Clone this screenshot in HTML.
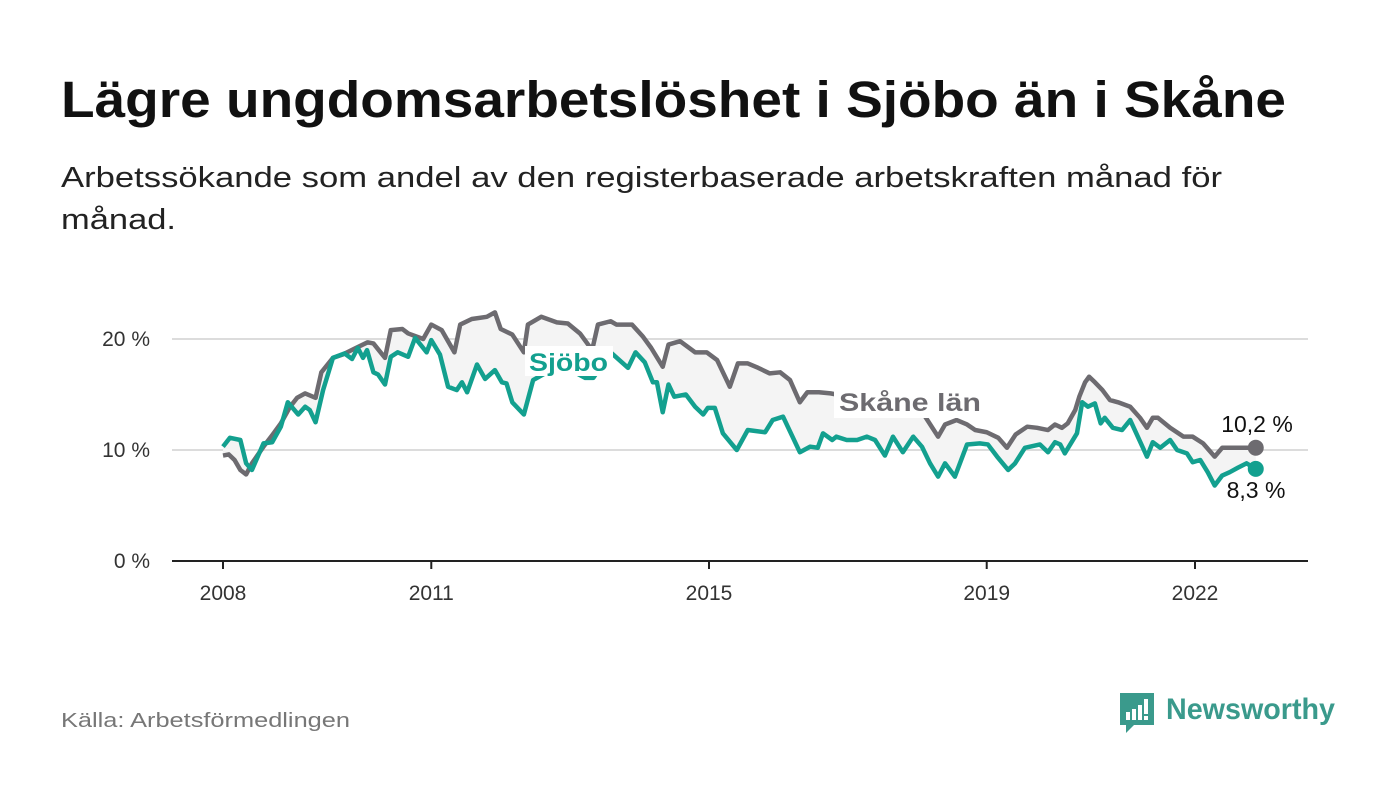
<!DOCTYPE html>
<html><head><meta charset="utf-8"><style>
body{margin:0;background:#fff;width:1400px;height:794px;overflow:hidden;font-family:"Liberation Sans","DejaVu Sans",sans-serif}
</style></head><body>
<svg width="1400" height="794" viewBox="0 0 1400 794" style="position:absolute;left:0;top:0">
<text x="61" y="117" font-size="51" font-weight="bold" fill="#111" textLength="1225" lengthAdjust="spacingAndGlyphs">Lägre ungdomsarbetslöshet i Sjöbo än i Skåne</text>
<text x="61" y="187" font-size="29" fill="#222" textLength="1161" lengthAdjust="spacingAndGlyphs">Arbetssökande som andel av den registerbaserade arbetskraften månad för</text>
<text x="61" y="229" font-size="29" fill="#222" textLength="115" lengthAdjust="spacingAndGlyphs">månad.</text>
<g id="grid"></g>
<g id="plot"></g>
<text x="61" y="727" font-size="20" fill="#777" textLength="289" lengthAdjust="spacingAndGlyphs">Källa: Arbetsförmedlingen</text>
<g>
<path d="M1120 693 h34 v32 h-20 l-8 8 v-8 h-6 z" fill="#3a9a8c"/>
<rect x="1126" y="712" width="4" height="8" fill="#fff"/><rect x="1132" y="709" width="4" height="11" fill="#fff"/><rect x="1138" y="705" width="4" height="15" fill="#fff"/><rect x="1144" y="699" width="4" height="15" fill="#fff"/><rect x="1144" y="716" width="4" height="4" fill="#fff"/>
<text x="1166" y="719" font-size="30" font-weight="bold" fill="#3a9a8c" textLength="169" lengthAdjust="spacingAndGlyphs">Newsworthy</text>
</g>
</svg>
<script>
// month index since Jan 2008, value in %
const skaneMonths=[0,1,2,3,4,5,7,8.6,10,11.6,12.8,14.2,16,17,19,20.7,23,25,26,28,29,31,32,34.6,36,37.8,40,41,43,45.6,47,48,50,52,52.7,55,57.7,59.6,61.7,63.8,64.8,67,68,70.7,72.6,74,76,77,79,81.6,83.6,85.4,87.6,89,90.7,92.5,94.5,96.3,98,99.7,101,103,105,108,112,116,119,121,123.6,124.8,126.8,128.6,130,132,134,135.5,137,139,140.7,142.6,143.8,145,146,147.3,148,149,149.7,150.7,152,153.3,154.7,156.8,158.5,159.7,160.7,161.6,163.7,166,167.6,169.4,171.4,172.7,178.5];
const skaneValues=[9.5,9.6,9.1,8.2,7.8,8.8,10.3,11.4,12.4,13.9,14.7,15.1,14.7,17.0,18.3,18.6,19.2,19.7,19.6,18.3,20.8,20.9,20.5,20.0,21.3,20.8,18.8,21.3,21.8,22.0,22.4,20.9,20.4,18.8,21.3,22.0,21.5,21.4,20.5,19.0,21.3,21.6,21.3,21.3,20.2,19.2,17.5,19.5,19.8,18.8,18.8,18.1,15.7,17.8,17.8,17.4,16.9,17.0,16.3,14.3,15.2,15.2,15.1,14.8,14.6,14.2,13.8,13.3,11.2,12.3,12.7,12.3,11.8,11.6,11.1,10.2,11.4,12.1,12.0,11.8,12.3,12.0,12.4,13.6,14.8,16.1,16.6,16.1,15.4,14.5,14.3,13.9,12.9,12.0,12.9,12.9,12.0,11.2,11.2,10.6,9.4,10.2,10.2];
const sjoboMonths=[0,1.2,3,4,5,7,8.5,10,11.2,13,14.2,15,16,17.3,19,21,22.3,23.3,24.2,24.9,26,26.8,28,29,30.2,32,33.2,35.2,36,37.5,38.9,40.4,41.3,42.2,43.9,45.3,47,48.2,49,50,52,53.6,56,59,62.6,64,67,70,71.3,72.9,74.3,75,76,77,78,80,81.6,83,83.8,85,86.4,88.8,90.7,93.7,95,96.8,99.7,101.5,102.8,103.7,105.3,106,107.8,109.6,111.3,112.7,114.4,115.8,117.5,119.3,120.8,122.2,123.6,124.8,126.5,128.6,130.8,132.2,133.8,135.7,136.9,138.6,141.2,142.6,143.8,144.7,145.5,147.6,148.5,149.5,150.7,151.7,152.4,153.8,155.4,156.8,159.7,160.7,162,163.7,164.9,166.6,167.6,168.9,170.2,171.4,172.7,174,175.4,176.9,178.5];
const sjoboValues=[10.3,11.1,10.9,8.8,8.2,10.6,10.7,12.1,14.3,13.2,13.9,13.6,12.5,15.4,18.3,18.7,18.2,19.2,18.3,19.0,17.0,16.8,15.9,18.4,18.8,18.4,20.1,18.8,19.9,18.6,15.7,15.4,16.1,15.2,17.7,16.4,17.2,16.1,16.0,14.3,13.2,16.3,17.0,17.5,16.5,16.5,18.8,17.4,18.8,17.9,16.1,16.1,13.4,15.9,14.8,15.0,13.9,13.2,13.8,13.8,11.5,10.0,11.8,11.6,12.7,13.0,9.8,10.3,10.2,11.5,10.9,11.2,10.9,10.9,11.2,10.9,9.5,11.2,9.8,11.2,10.3,8.8,7.6,8.8,7.6,10.5,10.6,10.5,9.4,8.2,8.8,10.2,10.5,9.8,10.7,10.5,9.7,11.5,14.3,13.9,14.2,12.4,12.9,12.0,11.8,12.7,9.4,10.7,10.2,10.9,10.0,9.7,8.9,9.1,8.0,6.8,7.7,8.0,8.4,8.8,8.3];
const yTicks=[0,10,20];
const yTickLabels=["0 %","10 %","20 %"];
const xTickMonths=[0,36,84,132,168];
const xTickLabels=["2008","2011","2015","2019","2022"];
const endLabels=["10,2 %","8,3 %"];

const NS="http://www.w3.org/2000/svg";
const X=m=>223+m*(972/168);
const Y=v=>561-v*11.1;
function mk(t,a,p){const e=document.createElementNS(NS,t);for(const k in a)e.setAttribute(k,a[k]);p.appendChild(e);return e;}
const grid=document.getElementById('grid'),plot=document.getElementById('plot');
yTicks.forEach((v,i)=>{
  if(v>0){const l=mk('line',{x1:172,x2:1308,y1:Y(v),y2:Y(v),stroke:'#dcdcdc','stroke-width':2},grid);
  
  }
  const t=mk('text',{x:150,y:Y(v)+7,'font-size':21,fill:'#333','text-anchor':'end'},grid);
  t.textContent=yTickLabels[i];
  
  
});
const ax=mk('line',{x1:172,x2:1308,y1:561,y2:561,stroke:'#222','stroke-width':2},grid);


xTickMonths.forEach((m,i)=>{
  const tk=mk('line',{x1:X(m),x2:X(m),y1:561,y2:569,stroke:'#222','stroke-width':2},grid);
  
  
  const t=mk('text',{x:X(m),y:600,'font-size':21,fill:'#333','text-anchor':'middle'},grid);
  t.textContent=xTickLabels[i];
  
  
});
const sp=skaneMonths.map((m,i)=>[X(m),Y(skaneValues[i])]);
const gp=sjoboMonths.map((m,i)=>[X(m),Y(sjoboValues[i])]);
const area=mk('polygon',{points:sp.concat(gp.slice().reverse()).map(p=>p.join(',')).join(' '),fill:'#f4f4f4'},plot);


const gl=mk('polyline',{points:sp.map(p=>p.join(',')).join(' '),fill:'none',stroke:'#6d6b70','stroke-width':4.5,'stroke-linejoin':'round'},plot);


const tl=mk('polyline',{points:gp.map(p=>p.join(',')).join(' '),fill:'none',stroke:'#13a08f','stroke-width':4.5,'stroke-linejoin':'round'},plot);


const d1=mk('circle',{cx:sp[sp.length-1][0],cy:sp[sp.length-1][1],r:8,fill:'#6d6b70'},plot);


const d2=mk('circle',{cx:gp[gp.length-1][0],cy:gp[gp.length-1][1],r:8,fill:'#13a08f'},plot);


const r1=mk('rect',{x:525,y:346,width:88,height:30,fill:'#fff'},plot);


const l1=mk('text',{x:529,y:371,'font-size':25,'font-weight':'bold',fill:'#13a08f',textLength:79,lengthAdjust:'spacingAndGlyphs'},plot);
l1.textContent='Sjöbo';


const r2=mk('rect',{x:834,y:386,width:152,height:32,fill:'#fff'},plot);


const l2=mk('text',{x:839,y:411,'font-size':25,'font-weight':'bold',fill:'#6d6b70',textLength:142,lengthAdjust:'spacingAndGlyphs'},plot);
l2.textContent='Skåne län';


const e1=mk('text',{x:1257,y:432,'font-size':23,fill:'#111','text-anchor':'middle'},plot);
e1.textContent=endLabels[0];


const e2=mk('text',{x:1256,y:498,'font-size':23,fill:'#111','text-anchor':'middle'},plot);
e2.textContent=endLabels[1];


</script>
</body></html>
